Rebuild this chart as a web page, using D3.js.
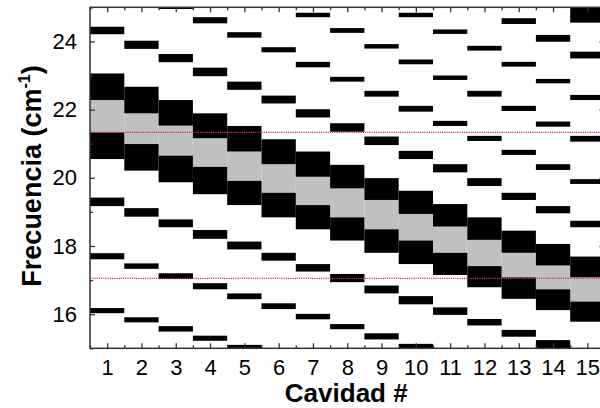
<!DOCTYPE html>
<html><head><meta charset="utf-8">
<script src="https://cdn.jsdelivr.net/npm/d3@7"></script>
<style>body{margin:0;background:#fff}svg{display:block}</style>
</head><body><div id="chart"></div>
<script>
const cavities = [1,2,3,4,5,6,7,8,9,10,11,12,13,14,15];
// upper black band top, gray gap top, gray gap bottom, lower black band bottom (cm^-1)
const bandTop    = [23.06,22.67,22.28,21.89,21.52,21.13,20.77,20.38,19.99,19.62,19.23,18.84,18.45,18.06,17.69];
const gapTop     = [22.28,21.89,21.53,21.16,20.77,20.40,20.03,19.69,19.35,18.94,18.57,18.18,17.80,17.43,17.08];
const gapBottom  = [21.33,20.99,20.65,20.32,19.91,19.56,19.20,18.84,18.49,18.16,17.80,17.41,17.08,16.73,16.37];
const bandBottom = [20.55,20.21,19.87,19.52,19.20,18.84,18.49,18.16,17.80,17.47,17.15,16.79,16.45,16.12,15.78];
// thin modes: [cavity, low, high]
const modes = [
 [1,24.21,24.43],[1,19.17,19.42],[1,17.61,17.79],[1,16.03,16.18],
 [2,23.78,24.02],[2,18.86,19.11],[2,17.33,17.49],[2,15.76,15.91],
 [3,24.95,25.10],[3,23.39,23.63],[3,18.55,18.78],[3,17.03,17.20],[3,15.49,15.65],
 [4,24.53,24.71],[4,22.98,23.23],[4,18.21,18.47],[4,16.73,16.91],[4,15.22,15.37],
 [5,24.11,24.27],[5,22.58,22.82],[5,17.90,18.13],[5,16.44,16.61],[5,14.90,15.10],
 [6,23.68,23.83],[6,22.18,22.41],[6,17.57,17.80],[6,16.15,16.32],
 [7,24.71,24.84],[7,23.24,23.40],[7,21.77,22.01],[7,17.25,17.47],[7,15.85,16.01],
 [8,24.25,24.39],[8,22.82,22.96],[8,21.35,21.60],[8,16.94,17.18],[8,15.56,15.71],
 [9,23.79,23.92],[9,22.38,22.55],[9,20.96,21.21],[9,16.61,16.84],[9,15.26,15.44],
 [10,24.71,24.84],[10,23.33,23.47],[10,21.94,22.11],[10,20.55,20.79],[10,16.29,16.53],[10,14.90,15.13],
 [11,24.22,24.35],[11,22.87,23.00],[11,21.52,21.67],[11,20.16,20.40],[11,15.98,16.20],
 [12,23.73,23.87],[12,22.38,22.55],[12,21.08,21.23],[12,19.76,19.99],[12,15.67,15.86],
 [13,24.51,24.68],[13,23.26,23.40],[13,21.96,22.11],[13,20.67,20.82],[13,19.35,19.56],[13,15.34,15.54],
 [14,23.99,24.19],[14,22.77,22.90],[14,21.50,21.65],[14,20.23,20.40],[14,18.96,19.17],[14,14.90,15.24],
 [15,24.55,25.10],[15,23.50,23.70],[15,22.28,22.43],[15,21.06,21.23],[15,19.82,19.96],[15,18.55,18.74]
];
const refLines = [21.33, 17.05];
const yTicks = [16,18,20,22,24];
const yMinor = [15,17,19,21,23,25];

const W = 600, H = 408;
const L = 90, R = 604.5, T = 7.3, B = 348.3;
const svg = d3.select('#chart').append('svg').attr('width', W).attr('height', H)
  .style('font-family', 'Arial, "Liberation Sans", sans-serif');

const x = d3.scaleLinear().domain([0.5, 15.5]).range([L, R]);
const y = d3.scaleLinear().domain([15, 25]).range([B, T]);

svg.append('clipPath').attr('id', 'clip').append('rect')
  .attr('x', L).attr('y', T).attr('width', R - L).attr('height', B - T);
const plot = svg.append('g').attr('clip-path', 'url(#clip)');

plot.selectAll('rect.gap').data(cavities).join('rect').attr('class', 'gap')
  .attr('x', (c) => x(c - 0.5)).attr('width', (c) => x(c + 0.5) - x(c - 0.5))
  .attr('y', (c, i) => y(gapTop[i])).attr('height', (c, i) => y(gapBottom[i]) - y(gapTop[i]))
  .attr('fill', '#c0c0c0');
plot.selectAll('rect.up').data(cavities).join('rect').attr('class', 'up')
  .attr('x', (c) => x(c - 0.5)).attr('width', (c) => x(c + 0.5) - x(c - 0.5))
  .attr('y', (c, i) => y(bandTop[i])).attr('height', (c, i) => y(gapTop[i]) - y(bandTop[i]))
  .attr('fill', '#000');
plot.selectAll('rect.lo').data(cavities).join('rect').attr('class', 'lo')
  .attr('x', (c) => x(c - 0.5)).attr('width', (c) => x(c + 0.5) - x(c - 0.5))
  .attr('y', (c, i) => y(gapBottom[i])).attr('height', (c, i) => y(bandBottom[i]) - y(gapBottom[i]))
  .attr('fill', '#000');
plot.selectAll('rect.mode').data(modes).join('rect').attr('class', 'mode')
  .attr('x', (d) => x(d[0] - 0.5)).attr('width', (d) => x(d[0] + 0.5) - x(d[0] - 0.5))
  .attr('y', (d) => y(d[2])).attr('height', (d) => y(d[1]) - y(d[2]))
  .attr('fill', '#000');
plot.selectAll('line.ref').data(refLines).join('line').attr('class', 'ref')
  .attr('x1', L).attr('x2', R).attr('y1', (d) => y(d)).attr('y2', (d) => y(d))
  .attr('stroke', '#e0303c').attr('stroke-width', 1.2).attr('stroke-dasharray', '1.2,1');

const axCol = '#333';
function styleAxis(g) {
  g.select('.domain').remove();
  g.selectAll('line').attr('stroke', axCol).attr('stroke-width', 1.3);
}
const xMajor = cavities;
const xMinorVals = cavities.map((c) => c - 0.5).concat([15.5]);

const axBottom = svg.append('g').attr('transform', `translate(0,${B})`)
  .call(d3.axisBottom(x).tickValues(xMajor).tickSize(-5).tickPadding(11).tickFormat(d3.format('d')));
styleAxis(axBottom);
axBottom.selectAll('text').attr('font-size', 22).attr('fill', '#000');
const axBottomMinor = svg.append('g').attr('transform', `translate(0,${B})`)
  .call(d3.axisBottom(x).tickValues(xMinorVals).tickSize(-3).tickFormat(''));
styleAxis(axBottomMinor);

const axTop = svg.append('g').attr('transform', `translate(0,${T})`)
  .call(d3.axisTop(x).tickValues(xMajor).tickSize(-5).tickFormat(''));
styleAxis(axTop);
const axTopMinor = svg.append('g').attr('transform', `translate(0,${T})`)
  .call(d3.axisTop(x).tickValues(xMinorVals).tickSize(-3).tickFormat(''));
styleAxis(axTopMinor);

const axLeft = svg.append('g').attr('transform', `translate(${L},0)`)
  .call(d3.axisLeft(y).tickValues(yTicks).tickSize(-5).tickPadding(13).tickFormat(d3.format('d')));
styleAxis(axLeft);
axLeft.selectAll('text').attr('font-size', 22).attr('fill', '#000');
const axLeftMinor = svg.append('g').attr('transform', `translate(${L},0)`)
  .call(d3.axisLeft(y).tickValues(yMinor).tickSize(-3).tickFormat(''));
styleAxis(axLeftMinor);

const axRight = svg.append('g').attr('transform', `translate(${R},0)`)
  .call(d3.axisRight(y).tickValues(yTicks).tickSize(-5).tickFormat(''));
styleAxis(axRight);
const axRightMinor = svg.append('g').attr('transform', `translate(${R},0)`)
  .call(d3.axisRight(y).tickValues(yMinor).tickSize(-3).tickFormat(''));
styleAxis(axRightMinor);

svg.append('rect').attr('x', L).attr('y', T).attr('width', R - L).attr('height', B - T)
  .attr('fill', 'none').attr('stroke', axCol).attr('stroke-width', 1.5);

svg.append('text').attr('x', (L + R) / 2 - 1).attr('y', 402)
  .attr('text-anchor', 'middle').attr('font-size', 26).attr('font-weight', 'bold')
  .text('Cavidad #');
const yt = svg.append('text').attr('transform', `translate(41,176) rotate(-90)`)
  .attr('text-anchor', 'middle').attr('font-size', 27).attr('font-weight', 'bold');
yt.append('tspan').text('Frecuencia (cm');
yt.append('tspan').attr('font-size', 16).attr('dy', -11).text('-1');
yt.append('tspan').attr('dy', 11).text(')');
</script></body></html>
